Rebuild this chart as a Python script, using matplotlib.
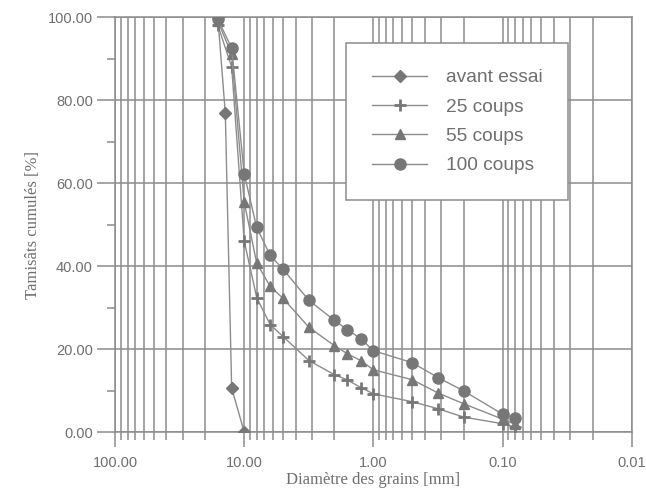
import numpy as np
import matplotlib
matplotlib.use("Agg")
import matplotlib.pyplot as plt
from matplotlib.ticker import FixedLocator, LogLocator, NullFormatter

# tamis (mm)
diam_avant = [16, 14, 12.5, 10]
avant_essai = [100.0, 76.8, 10.6, 0.0]

diam = [16, 12.5, 10, 8, 6.3, 5, 3.15, 2, 1.6, 1.25, 1, 0.5, 0.315, 0.2, 0.1, 0.08]
coups_25 = [98.0, 88.0, 46.0, 32.4, 25.9, 23.0, 17.2, 13.8, 12.6, 10.7, 9.2, 7.3, 5.6, 3.6, 2.0, 1.2]
coups_55 = [99.0, 91.0, 55.4, 40.7, 35.1, 32.2, 25.2, 20.8, 18.9, 17.2, 15.0, 12.6, 9.4, 6.8, 3.1, 1.9]
coups_100 = [99.5, 92.5, 62.2, 49.3, 42.6, 39.2, 31.7, 26.9, 24.7, 22.5, 19.6, 16.7, 13.1, 9.9, 4.3, 3.4]

x_ticks = [100, 10, 1, 0.1, 0.01]
y_ticks = [0, 20, 40, 60, 80, 100]

gris = "#8c8c8c"
gris_txt = "#6f6f6f"
gris_mk = "#777777"

fig = plt.figure(figsize=(6.46, 4.93), dpi=100)
ax = fig.add_axes([0.178, 0.1237, 0.8, 0.8418])

ax.set_xscale("log")
ax.set_xlim(100, 0.01)
ax.set_ylim(0, 100)

kw = dict(color=gris, lw=1.0, mfc=gris_mk, mec=gris_mk, zorder=3)
ax.plot(diam_avant, avant_essai, marker="D", ms=6, label="avant essai", **kw)
ax.plot(diam, coups_25, marker="+", ms=9, mew=2, label="25 coups", **kw)
ax.plot(diam, coups_55, marker="^", ms=7.5, label="55 coups", **kw)
ax.plot(diam, coups_100, marker="o", ms=8, label="100 coups", **kw)

ax.xaxis.set_major_locator(FixedLocator(x_ticks))
ax.xaxis.set_minor_locator(LogLocator(base=10, subs=np.arange(2, 10)))
ax.xaxis.set_minor_formatter(NullFormatter())
ax.set_xticklabels(["%.2f" % v for v in x_ticks])
ax.yaxis.set_major_locator(FixedLocator(y_ticks))
ax.yaxis.set_minor_locator(FixedLocator([10, 30, 50, 70, 90]))
ax.set_yticklabels(["%.2f" % v for v in y_ticks])

ax.grid(True, which="major", axis="both", color=gris, lw=1.1)
ax.grid(True, which="minor", axis="x", color=gris, lw=1.1)

ax.tick_params(which="both", direction="out", width=1.1, color=gris,
               labelcolor=gris_txt, labelsize=10.5)
ax.tick_params(axis="x", which="major", length=11, pad=6)
ax.tick_params(axis="y", which="major", length=13, pad=3)
ax.tick_params(which="minor", length=6)
for lab in ax.get_xticklabels() + ax.get_yticklabels():
    lab.set_family("Liberation Sans")

for s in ax.spines.values():
    s.set_color(gris)
    s.set_linewidth(1.1)

ax.set_xlabel("Diamètre des grains [mm]", family="Liberation Serif", fontsize=12,
              color=gris_txt, labelpad=2)
ax.set_ylabel("Tamisâts cumulés [%]", family="Liberation Serif", fontsize=12,
              color=gris_txt, labelpad=5)

leg = ax.legend(loc="upper left", bbox_to_anchor=(0.447, 0.937), borderaxespad=0,
                fancybox=False, framealpha=1, edgecolor=gris, borderpad=1.35,
                handlelength=2.9, handletextpad=0.95, labelspacing=0.62,
                prop={"family": "Liberation Sans", "size": 13.8})
leg.get_frame().set_linewidth(1.1)
leg.set_zorder(5)
for t in leg.get_texts():
    t.set_color(gris_txt)

fig.savefig("out.png", dpi=100)
